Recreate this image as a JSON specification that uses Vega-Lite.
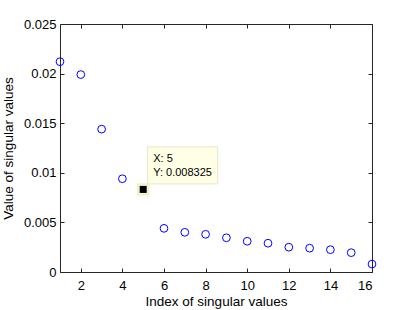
{
  "$schema": "https://vega.github.io/schema/vega-lite/v6.json",
  "width": 312,
  "height": 248,
  "autosize": {"type": "none"},
  "padding": {"left": 60, "top": 24, "right": 39, "bottom": 38},
  "background": "white",
  "config": {
    "view": {"stroke": "#262626", "strokeWidth": 1},
    "font": "Liberation Sans",
    "axis": {
      "domain": false,
      "grid": false,
      "tickColor": "#262626",
      "tickSize": -4,
      "labelFont": "Liberation Sans",
      "labelFontSize": 13,
      "labelColor": "black",
      "titleFont": "Liberation Sans",
      "titleFontSize": 13.5,
      "titleFontWeight": "normal",
      "titleColor": "black"
    }
  },
  "datasets": {
    "sv": [
      {"index": 1, "value": 0.0212},
      {"index": 2, "value": 0.0199},
      {"index": 3, "value": 0.0144},
      {"index": 4, "value": 0.0094},
      {"index": 5, "value": 0.008325},
      {"index": 6, "value": 0.0044},
      {"index": 7, "value": 0.0040},
      {"index": 8, "value": 0.0038},
      {"index": 9, "value": 0.00345},
      {"index": 10, "value": 0.0031},
      {"index": 11, "value": 0.0029},
      {"index": 12, "value": 0.0025},
      {"index": 13, "value": 0.0024},
      {"index": 14, "value": 0.00225},
      {"index": 15, "value": 0.00195},
      {"index": 16, "value": 0.0008}
    ],
    "tip": [
      {"index": 5, "value": 0.008325, "label": "X: 5\nY: 0.008325"}
    ]
  },
  "resolve": {"axis": {"x": "independent", "y": "independent"}},
  "layer": [
    {
      "data": {"name": "sv"},
      "mark": {"type": "point", "shape": "circle", "filled": false, "stroke": "#0000ff", "strokeWidth": 1, "size": 60, "opacity": 1, "clip": false},
      "encoding": {
        "x": {
          "field": "index", "type": "quantitative",
          "scale": {"domain": [1, 16], "nice": false, "zero": false},
          "axis": {"orient": "bottom", "values": [2, 4, 6, 8, 10, 12, 14, 16], "title": "Index of singular values", "labelPadding": 11, "titlePadding": 2}
        },
        "y": {
          "field": "value", "type": "quantitative",
          "scale": {"domain": [0, 0.025], "nice": false},
          "axis": {"orient": "left", "values": [0, 0.005, 0.01, 0.015, 0.02, 0.025], "format": "~g", "title": "Value of singular values", "labelPadding": 8, "titlePadding": 8}
        }
      }
    },
    {
      "data": {"name": "tip"},
      "mark": {"type": "point", "shape": "square", "filled": true, "fill": "#ffffe0", "stroke": "#f0f0c8", "size": 110, "opacity": 1},
      "encoding": {
        "x": {"field": "index", "type": "quantitative", "axis": {"orient": "top", "values": [2, 4, 6, 8, 10, 12, 14, 16], "labels": false, "title": null}},
        "y": {"field": "value", "type": "quantitative", "axis": {"orient": "right", "values": [0, 0.005, 0.01, 0.015, 0.02, 0.025], "labels": false, "title": null}}
      }
    },
    {
      "data": {"name": "tip"},
      "mark": {"type": "point", "shape": "square", "filled": true, "fill": "black", "size": 50, "opacity": 1},
      "encoding": {
        "x": {"field": "index", "type": "quantitative", "axis": null},
        "y": {"field": "value", "type": "quantitative", "axis": null}
      }
    },
    {
      "data": {"name": "tip"},
      "mark": {"type": "rect", "fill": "#ffffe5", "stroke": "#e6e6c8", "strokeWidth": 1, "xOffset": 4.5, "x2Offset": 74.5, "yOffset": -42.5, "y2Offset": -5.5},
      "encoding": {
        "x": {"field": "index", "type": "quantitative", "axis": null},
        "x2": {"field": "index"},
        "y": {"field": "value", "type": "quantitative", "axis": null},
        "y2": {"field": "value"}
      }
    },
    {
      "data": {"name": "tip"},
      "mark": {"type": "text", "align": "left", "baseline": "alphabetic", "dx": 10, "dy": -27, "fontSize": 11, "lineHeight": 14, "lineBreak": "\n", "color": "black", "font": "Liberation Sans"},
      "encoding": {
        "x": {"field": "index", "type": "quantitative", "axis": null},
        "y": {"field": "value", "type": "quantitative", "axis": null},
        "text": {"field": "label"}
      }
    }
  ]
}
